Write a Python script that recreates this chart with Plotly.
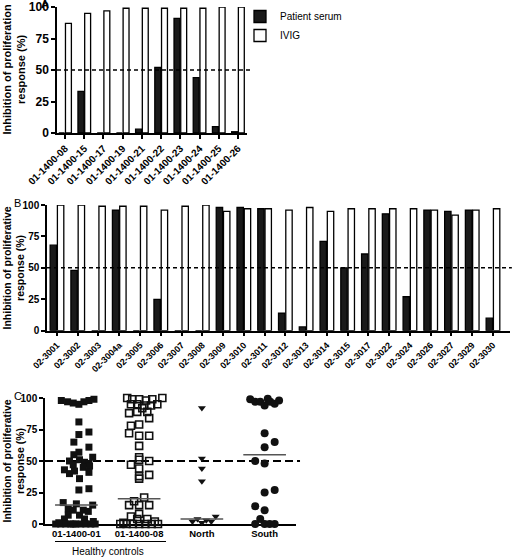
import plotly.graph_objects as go

W, H = 512, 557
FONT = "Liberation Sans, Arial, sans-serif"

# ---------------- Panel A data ----------------
a_ids = ["01-1400-08", "01-1400-15", "01-1400-17", "01-1400-19", "01-1400-21",
         "01-1400-22", "01-1400-23", "01-1400-24", "01-1400-25", "01-1400-26"]
a_serum = [0, 33, 0, 0, 3, 52, 91, 44, 5, 1]
a_ivig = [87, 95, 97, 99, 99, 99, 99, 99, 100, 100]

# ---------------- Panel B data ----------------
b_ids = ["02-3001", "02-3002", "02-3003", "02-3004a", "02-3005", "02-3006", "02-3007",
         "02-3008", "02-3009", "02-3010", "02-3011", "02-3012", "02-3013", "02-3014",
         "02-3015", "02-3017", "02-3022", "02-3024", "02-3026", "02-3027", "02-3029",
         "02-3030"]
b_serum = [68, 48, 0, 96, 0, 25, 0, 0, 98, 98, 97, 14, 3, 71, 50, 61, 93, 27, 96, 95, 96, 10]
b_ivig = [100, 100, 99, 99, 99, 96, 99, 100, 95, 97, 97, 96, 98, 95, 97, 97, 97, 97, 96, 92, 96, 97]

# ---------------- Panel C data ----------------
c_groups = ["01-1400-01", "01-1400-08", "North", "South"]
c_medians = [15, 20, 4, 55]

c01_vals = [98, 97, 96, 95, 97, 98, 99, 81, 73, 71, 65, 61, 57, 55, 53, 50, 51, 49, 48,
            43, 47, 45, 46, 40, 42, 41, 36, 27, 28, 17, 16, 15, 12, 11, 11, 10, 7, 7, 4, 4,
            0, 0, 0, 0, 0, 0, 0, 0, 0, 0, 1, 2]
c01_spread = [-0.24, -0.14, -0.05, 0.04, 0.12, 0.2, 0.28, 0.04, 0.2, 0.04, -0.04, 0.2, 0.04,
              -0.04, 0.26, -0.11, 0.05, 0.13, 0.2, -0.19, -0.05, 0.11, 0.21, -0.11, -0.03,
              0.2, 0.05, 0.04, 0.2, -0.21, 0.0, 0.26, -0.13, -0.05, 0.11, 0.19, -0.13, 0.05,
              -0.19, 0.13, -0.33, -0.25, -0.17, -0.09, -0.01, 0.07, 0.15, 0.23, 0.3, -0.05,
              -0.28, 0.27]

c08_vals = [100, 99, 99, 98, 99, 100, 95, 95, 94, 94, 95, 92, 89, 88, 89, 84, 79, 78, 72,
            70, 70, 62, 53, 47, 51, 50, 44, 39, 38, 36, 18, 21, 15, 15, 15, 6, 8, 4, 4,
            0, 0, 0, 0, 0, 0, 0, 1, 2]
c08_spread = [-0.19, -0.11, 0.0, 0.11, 0.21, 0.37, -0.13, -0.03, 0.08, 0.19, 0.29, 0.05,
              -0.03, -0.16, 0.13, 0.16, 0.0, -0.13, -0.16, 0.0, 0.16, 0.0, 0.0, -0.13, 0.0,
              0.16, 0.0, 0.16, 0.0, 0.0, -0.08, 0.08, -0.16, 0.0, 0.16, -0.13, 0.0, 0.13,
              -0.03, -0.3, -0.2, -0.1, 0.0, 0.1, 0.2, 0.3, -0.25, 0.25]

north_vals = [92, 52, 44, 34, 2, 4, 1, 3, 2, 6]
north_spread = [0.0, 0.0, 0.0, 0.0, -0.15, -0.07, 0.0, 0.07, 0.15, 0.22]

south_vals = [99, 97, 97, 94, 99.5, 97, 95.5, 98, 72, 65, 61, 50, 48, 25, 27, 14, 11, 4,
              0, 0, 0, 0]
south_spread = [-0.23, -0.15, -0.07, 0.0, 0.05, 0.09, 0.16, 0.23, 0.0, 0.16, 0.0, -0.15,
                0.0, 0.0, 0.16, -0.15, 0.0, -0.07, -0.15, 0.0, 0.08, 0.16]


def xd(p0, p1):
    return [p0 / W, p1 / W]


def yd(top, bottom):
    return [1 - bottom / H, 1 - top / H]


fig = go.Figure()

# Panel A bars
fig.add_trace(go.Bar(x=a_ids, y=a_serum, name="Patient serum", xaxis="x", yaxis="y",
                     marker=dict(color="#1a1a1a", line=dict(color="black", width=1.3))))
fig.add_trace(go.Bar(x=a_ids, y=a_ivig, name="IVIG", xaxis="x", yaxis="y",
                     marker=dict(color="white", line=dict(color="black", width=1.3))))
# Panel B bars
fig.add_trace(go.Bar(x=b_ids, y=b_serum, name="Patient serum", xaxis="x2", yaxis="y2",
                     showlegend=False,
                     marker=dict(color="#1a1a1a", line=dict(color="black", width=1.3))))
fig.add_trace(go.Bar(x=b_ids, y=b_ivig, name="IVIG", xaxis="x2", yaxis="y2",
                     showlegend=False,
                     marker=dict(color="white", line=dict(color="black", width=1.3))))

# Panel C points
groups = [
    (c01_vals, c01_spread, dict(symbol="square", size=7, color="#111",
                                line=dict(color="#111", width=0))),
    (c08_vals, c08_spread, dict(symbol="square-open", size=7, color="#111",
                                line=dict(color="#111", width=1.6))),
    (north_vals, north_spread, dict(symbol="triangle-down", size=7, color="#111",
                                    line=dict(width=0))),
    (south_vals, south_spread, dict(symbol="circle", size=8, color="#111",
                                    line=dict(width=0))),
]
for i, (vals, spread, mk) in enumerate(groups):
    fig.add_trace(go.Scatter(x=[i + s for s in spread], y=vals, mode="markers",
                             marker=mk, xaxis="x3", yaxis="y3", showlegend=False,
                             cliponaxis=False))
for i, m in enumerate(c_medians):
    fig.add_trace(go.Scatter(x=[i - 0.34, i + 0.34], y=[m, m], mode="lines",
                             line=dict(color="#555", width=1.5), xaxis="x3", yaxis="y3",
                             showlegend=False, cliponaxis=False))

axis_common = dict(showline=True, linecolor="black", linewidth=1.5, ticks="outside",
                   tickcolor="black", tickwidth=1.5, ticklen=4, showgrid=False,
                   zeroline=False, automargin=False)

fig.update_layout(
    width=W, height=H, autosize=False,
    margin=dict(l=0, r=0, t=0, b=0, autoexpand=False),
    paper_bgcolor="white", plot_bgcolor="white",
    font=dict(family=FONT, color="black"),
    barmode="group", bargap=0.3, bargroupgap=0.12,
    showlegend=True,
    legend=dict(x=240 / W, y=1 - 2 / H, xanchor="left", yanchor="top",
                font=dict(size=10, family=FONT), bgcolor="rgba(0,0,0,0)",
                tracegroupgap=0),
    xaxis=dict(domain=xd(57, 247), anchor="y", type="category", range=[-0.42, 9.47],
               tickangle=-45, tickfont=dict(size=10, weight="bold"), **axis_common),
    yaxis=dict(domain=yd(7, 133), anchor="x", range=[0, 100], tickvals=[0, 25, 50, 75, 100],
               tickfont=dict(size=12, weight="bold"), **axis_common),
    xaxis2=dict(domain=xd(47, 510), anchor="y2", type="category", range=[-0.48, 21.82],
                tickangle=-45, tickfont=dict(size=9, weight="bold"), **axis_common),
    yaxis2=dict(domain=yd(205, 330.7), anchor="x2", range=[0, 100],
                tickvals=[0, 25, 50, 75, 100],
                tickfont=dict(size=10, weight="bold"), **axis_common),
    xaxis3=dict(domain=xd(45, 296), anchor="y3", range=[-0.5, 3.5],
                tickvals=[0, 1, 2, 3], ticktext=c_groups,
                showline=True, linecolor="black", linewidth=1.5, ticks="",
                showgrid=False, zeroline=False, layer="below traces", automargin=False,
                tickfont=dict(size=9.5, weight="bold")),
    yaxis3=dict(domain=yd(398, 524), anchor="x3", range=[0, 100],
                tickvals=[0, 25, 50, 75, 100],
                tickfont=dict(size=10, weight="bold"), **axis_common),
)

# 50% reference lines
fig.add_shape(type="line", xref="x domain", yref="y", x0=0, x1=1.026, y0=50, y1=50,
              line=dict(color="black", width=1.5, dash="4px,3px"))
fig.add_shape(type="line", xref="x2 domain", yref="y2", x0=0, x1=1.004, y0=50, y1=50,
              line=dict(color="black", width=1.5, dash="4px,3px"))
fig.add_shape(type="line", xref="x3 domain", yref="y3", x0=0, x1=1.016, y0=50, y1=50,
              line=dict(color="black", width=1.8, dash="8px,4px"), layer="below")

# Healthy controls bracket
fig.add_shape(type="line", xref="paper", yref="paper", x0=55 / W, x1=166 / W,
              y0=1 - 541.5 / H, y1=1 - 541.5 / H, line=dict(color="black", width=1.2))
fig.add_annotation(x=107.5 / W, y=1 - 551 / H, xref="paper", yref="paper",
                   text="Healthy controls", showarrow=False, xanchor="center",
                   yanchor="middle", font=dict(size=10, family=FONT))

# Y-axis titles
for ytxt, ycen, fsize in [("Inhibition of proliferation", 70, 11),
                          ("Inhibition of proliferative", 268, 10.5),
                          ("Inhibition of proliferative", 461, 10.5)]:
    fig.add_annotation(x=13.5 / W, y=1 - ycen / H, xref="paper", yref="paper",
                       text="<b>" + ytxt + "<br>response (%)</b>", textangle=-90,
                       showarrow=False, xanchor="center", yanchor="middle",
                       font=dict(size=fsize, family=FONT))

# Panel letters
for letter, lx, ly in [("<b>A</b>", 45, 4), ("B", 17.5, 202.5), ("C", 17.5, 396)]:
    fig.add_annotation(x=lx / W, y=1 - ly / H, xref="paper", yref="paper", text=letter,
                       showarrow=False, xanchor="center", yanchor="middle",
                       font=dict(size=11, family=FONT))

fig.write_html("out.html", config={"displayModeBar": False},
               post_script="document.body.style.margin='0px';")
